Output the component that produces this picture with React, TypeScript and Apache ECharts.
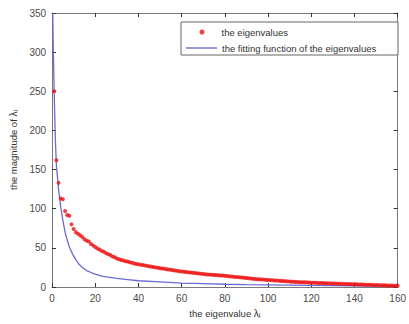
import React, { useEffect, useRef } from "react";
import * as echarts from "echarts";

const eigenvalues: number[] = [
  250, 162, 133, 113, 112, 97, 92, 91, 80, 74,
  70, 68, 66, 64, 61, 59, 58, 55, 53, 51,
  49, 48, 46, 45, 43, 42, 41, 39, 38, 36.5,
  35.5, 34.5, 34, 33, 32.5, 31.5, 31, 30, 29.5, 29,
  28.5, 28, 27.5, 27, 26.5, 26, 25.5, 25, 24.5, 24,
  23.6, 23.2, 22.8, 22.4, 22, 21.5, 21, 20.6, 20.2, 19.8,
  19.5, 19.2, 18.9, 18.6, 18.3, 18, 17.6, 17.2, 16.9, 16.6,
  16.3, 16, 15.8, 15.6, 15.4, 15.2, 15, 14.8, 14.6, 14.4,
  14.1, 13.8, 13.5, 13.2, 12.9, 12.6, 12.3, 12, 11.7, 11.4,
  11.1, 10.8, 10.5, 10.2, 10, 9.8, 9.6, 9.4, 9.2, 9,
  8.8, 8.6, 8.4, 8.2, 8, 7.8, 7.6, 7.4, 7.2, 7,
  6.8, 6.6, 6.4, 6.3, 6.2, 6.1, 6, 5.9, 5.7, 5.5,
  5.4, 5.3, 5.2, 5.1, 5, 4.9, 4.8, 4.7, 4.6, 4.5,
  4.4, 4.3, 4.2, 4.1, 4, 3.9, 3.8, 3.7, 3.6, 3.5,
  3.4, 3.3, 3.2, 3.1, 3, 2.9, 2.8, 2.7, 2.6, 2.5,
  2.4, 2.3, 2.2, 2.1, 2, 1.9, 1.8, 1.7, 1.6, 1.5,
];

const fitX: number[] = [0.3, 0.6, 1, 1.5, 2, 3, 4, 5, 6, 7, 8, 9.5, 11, 12.5, 14, 16, 18, 20, 23, 26, 30, 35, 40, 50, 60, 70, 80, 90, 100, 120, 140, 160];
const fitY: number[] = [350, 300, 245, 190, 155, 125, 102, 85, 70, 60, 51, 42, 35, 29, 25, 21, 18.5, 16.5, 14, 12.5, 11, 9.5, 8, 6.5, 5, 4.2, 3.5, 3, 2.6, 2, 1.6, 1.2];

const seriesNames: string[] = ["the eigenvalues", "the fitting function of the eigenvalues"];

const FONT = "'Liberation Sans', Arial, sans-serif";
const AXIS_COLOR = "#7a7a7a";
const LABEL_COLOR = "#4a4a4a";
const RED = "#ee1111";
const BLUE = "#6a6ad2";

export default function App() {
  const ref = useRef<HTMLDivElement>(null);
  useEffect(() => {
    if (!ref.current) return;
    const chart = echarts.init(ref.current, null, { renderer: "svg" });
    const scatterData = eigenvalues.map((v, i) => [i + 1, v]);
    const lineData = fitX.map((x, i) => [x, fitY[i]]);
    const axisCommon = {
      type: "value" as const,
      axisLine: { show: true, onZero: false, lineStyle: { color: AXIS_COLOR, width: 1 } },
      axisTick: { show: true, inside: true, length: 4, lineStyle: { color: "#333" } },
      splitLine: { show: false },
    };
    const nameStyle = {
      fontFamily: FONT,
      fontSize: 9.5,
      color: "#333",
      rich: {
        l: { fontFamily: FONT, fontSize: 10, color: "#333" },
        s: { fontFamily: FONT, fontSize: 7, color: "#333", verticalAlign: "bottom", padding: [4, 0, 0, 0] },
      },
    };
    chart.setOption({
      animation: false,
      backgroundColor: "#ffffff",
      grid: { left: 52, right: 3, top: 13, bottom: 32, containLabel: false },
      legend: [
        {
          data: [{ name: seriesNames[0], icon: "circle", itemStyle: { color: RED } }],
          left: 199.5,
          top: 26,
          padding: 0,
          itemWidth: 5,
          itemHeight: 5,
          textStyle: { fontFamily: FONT, fontSize: 9.5, color: "#333", lineHeight: 12, padding: [0, 0, 0, 12] },
          z: 10,
        },
        {
          data: [{ name: seriesNames[1], icon: "rect", itemStyle: { color: BLUE } }],
          left: 186,
          top: 42,
          padding: 0,
          itemWidth: 31,
          itemHeight: 1.4,
          textStyle: { fontFamily: FONT, fontSize: 9.5, color: "#333", lineHeight: 12 },
          z: 10,
        },
      ],
      graphic: [
        {
          type: "rect",
          shape: { x: 181, y: 22, width: 217, height: 33 },
          style: { fill: "#ffffff", stroke: "#666", lineWidth: 1 },
          z: 5,
        },
      ],
      xAxis: [
        {
          ...axisCommon,
          position: "bottom",
          min: 0,
          max: 160,
          interval: 20,
          axisLabel: { fontFamily: FONT, fontSize: 10, color: LABEL_COLOR, margin: 6, alignMaxLabel: "center" },
          name: "the eigenvalue {l|λ}{s|i}",
          nameLocation: "middle",
          nameGap: 21,
          nameTextStyle: nameStyle,
        },
        {
          ...axisCommon,
          position: "top",
          min: 0,
          max: 160,
          interval: 20,
          axisLabel: { show: false },
        },
      ],
      yAxis: [
        {
          ...axisCommon,
          position: "left",
          min: 0,
          max: 350,
          interval: 50,
          axisLabel: { fontFamily: FONT, fontSize: 10, color: LABEL_COLOR, margin: 6 },
          name: "the magnitude of {l|λ}{s|i}",
          nameLocation: "middle",
          nameGap: 31,
          nameTextStyle: nameStyle,
        },
        {
          ...axisCommon,
          position: "right",
          min: 0,
          max: 350,
          interval: 50,
          axisLabel: { show: false },
        },
      ],
      series: [
        {
          name: seriesNames[0],
          type: "scatter",
          data: scatterData,
          symbol: "circle",
          symbolSize: 4,
          itemStyle: { color: RED },
          z: 3,
        },
        {
          name: seriesNames[1],
          type: "line",
          data: lineData,
          showSymbol: false,
          symbol: "none",
          lineStyle: { color: BLUE, width: 1.3 },
          itemStyle: { color: BLUE },
          z: 2,
        },
      ],
    });
    return () => chart.dispose();
  }, []);
  return (
    <div
      ref={ref}
      style={{ position: "fixed", left: 0, top: 0, width: 409, height: 324, background: "#fff" }}
    />
  );
}
